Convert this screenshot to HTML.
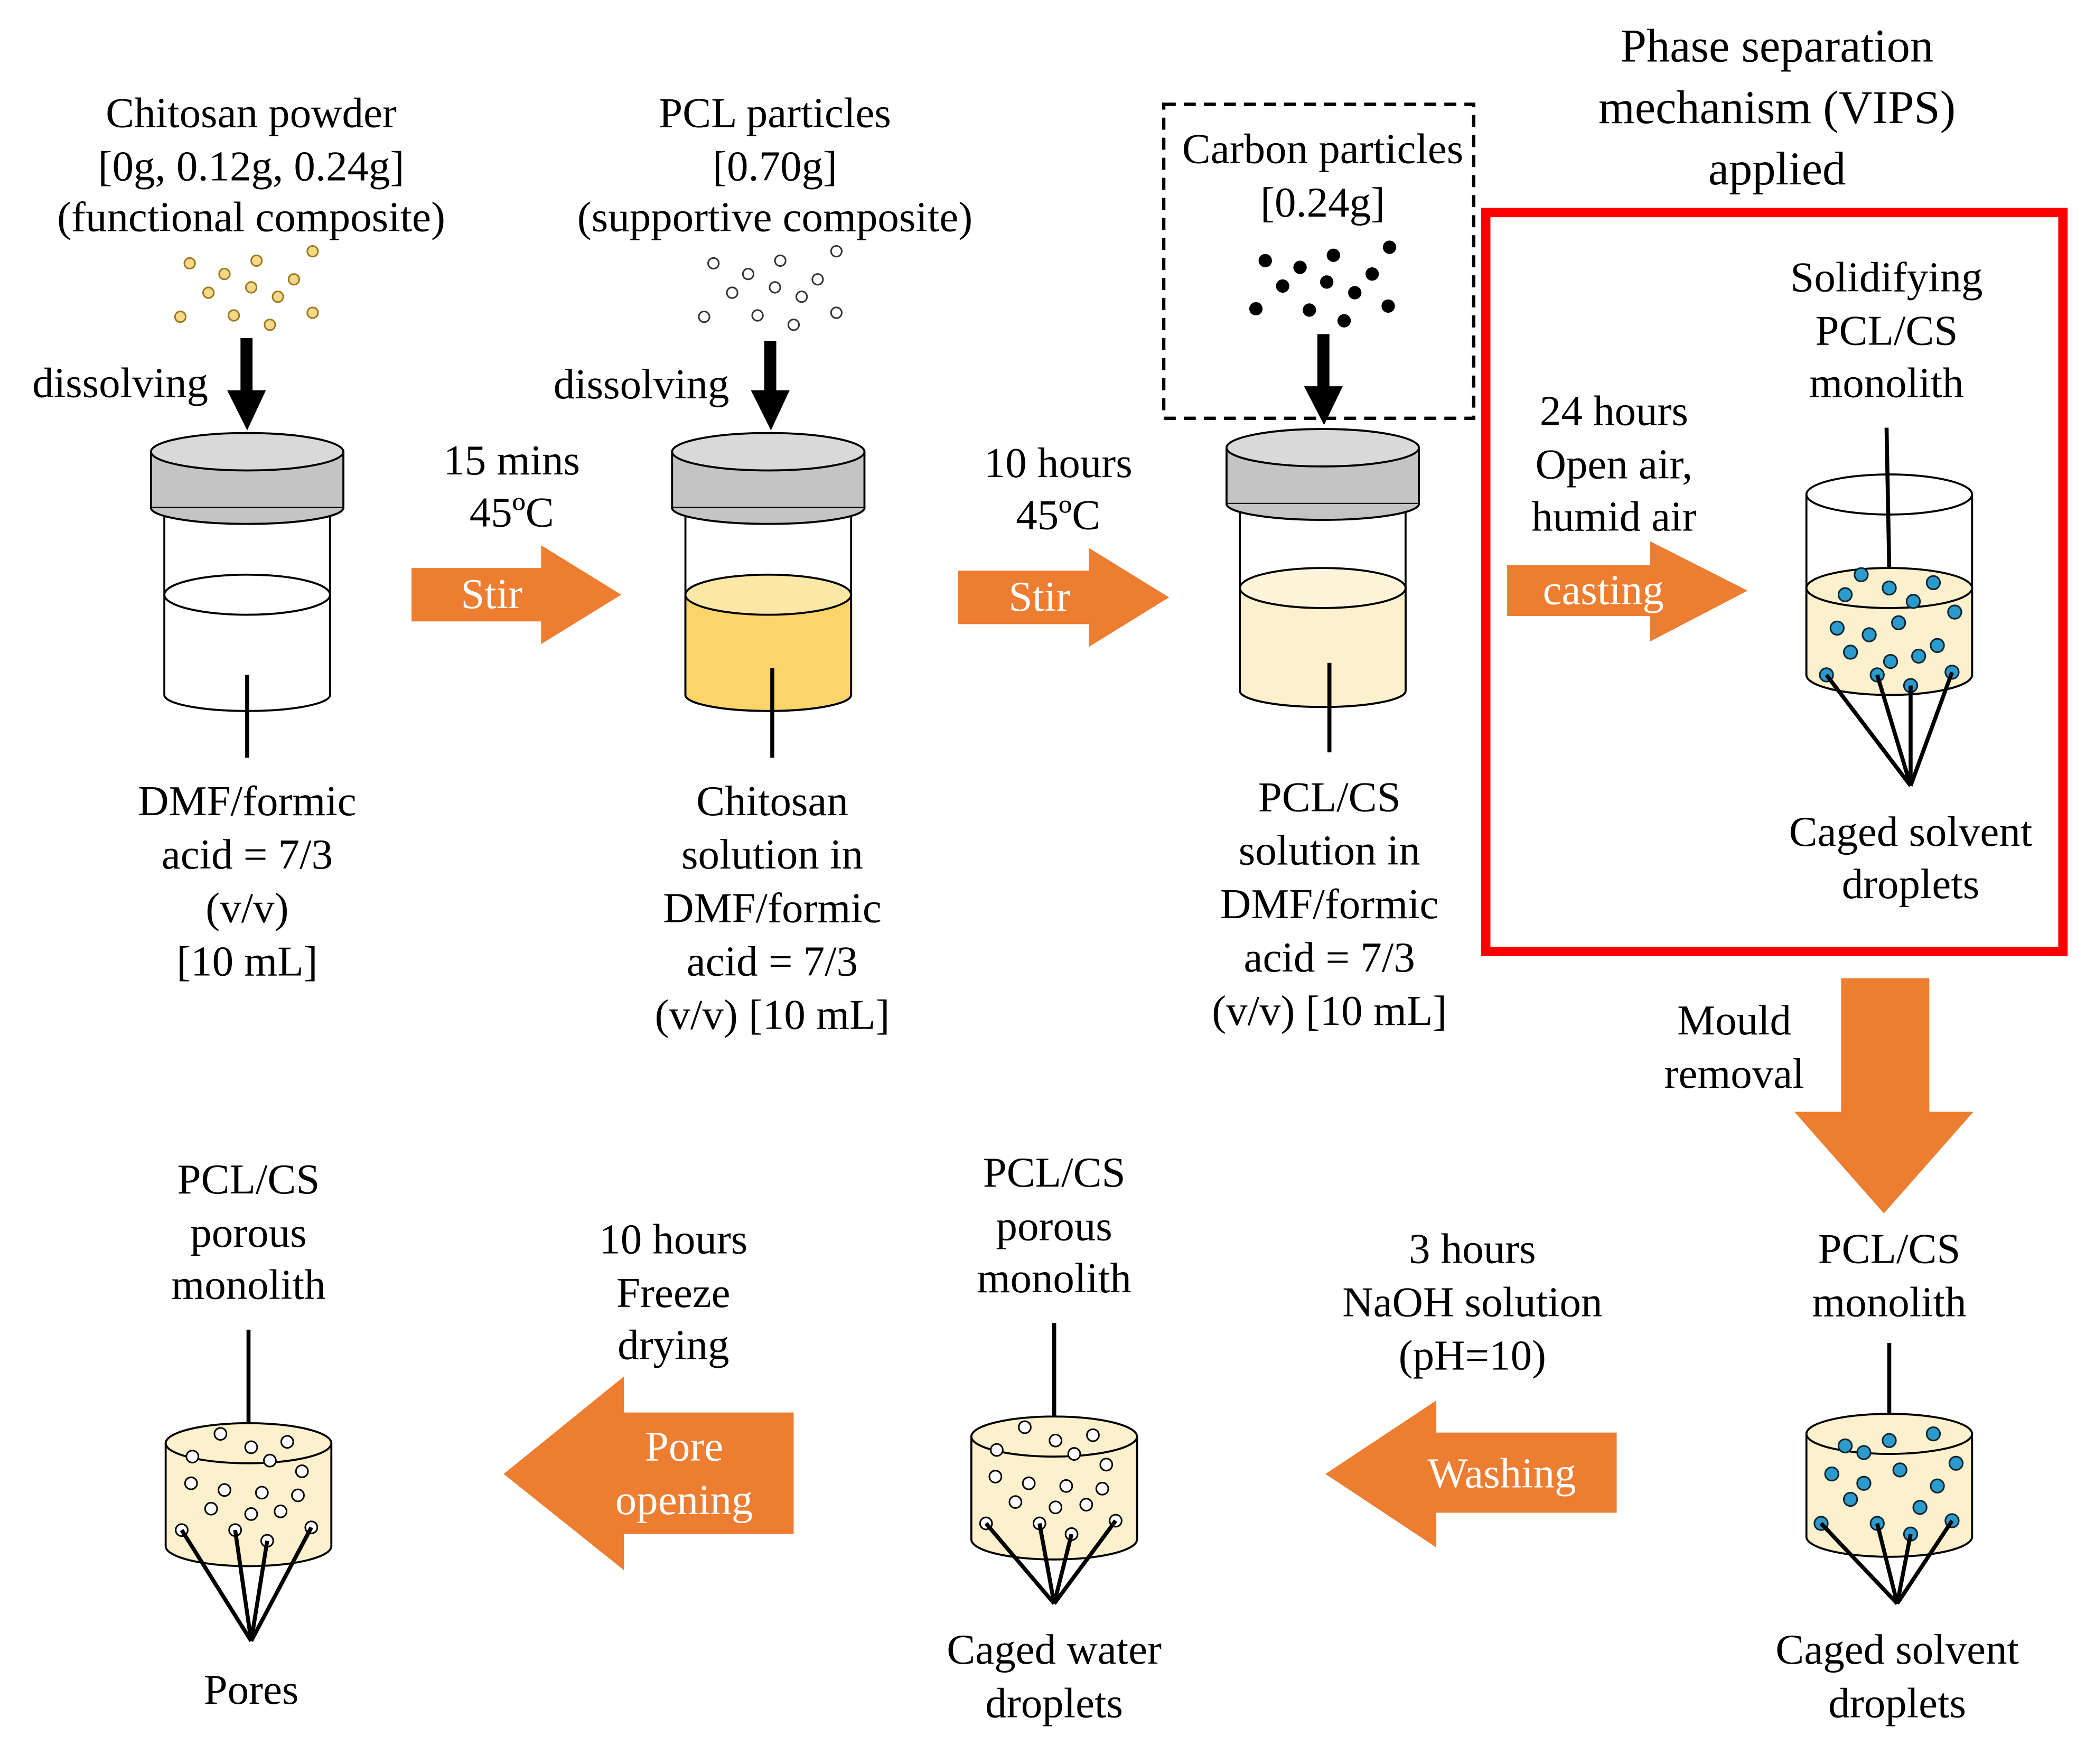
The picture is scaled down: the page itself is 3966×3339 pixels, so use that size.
<!DOCTYPE html>
<html><head><meta charset="utf-8"><style>html,body{margin:0;padding:0;background:#fff}svg{display:block}text{font-family:"Liberation Serif",serif;font-size:32px;fill:#000;text-anchor:middle}.w{fill:#fff}</style></head><body>
<svg width="3966" height="3339" viewBox="0 0 1568 1320" xmlns="http://www.w3.org/2000/svg">
<defs>
<g id="jar">
<path d="M-62,385 L-62,520 A62,12 0 0 0 62,520 L62,385" fill="#fff" stroke="#000" stroke-width="1.5"/>
<rect x="-72" y="338" width="144" height="42" fill="#c4c4c4" stroke="#000" stroke-width="1.5"/>
<path d="M-72,380 A72,12 0 0 0 72,380" fill="#c4c4c4" stroke="#000" stroke-width="1.5"/>
<ellipse cx="0" cy="338" rx="72" ry="14" fill="#d9d9d9" stroke="#000" stroke-width="1.5"/>
</g>
<g id="cyl">
<path d="M-62,0 L-62,77 A62,15 0 0 0 62,77 L62,0" fill="#FDF0CC" stroke="#000" stroke-width="1.5"/>
<ellipse cx="0" cy="0" rx="62" ry="15" fill="#FDF0CC" stroke="#000" stroke-width="1.5"/>
</g>
</defs>
<text x="188" y="95">Chitosan powder</text>
<text x="188" y="135">[0g, 0.12g, 0.24g]</text>
<text x="188" y="173">(functional composite)</text>
<text x="580" y="95">PCL particles</text>
<text x="580" y="135">[0.70g]</text>
<text x="580" y="173">(supportive composite)</text>
<text x="990" y="122">Carbon particles</text>
<text x="990" y="162">[0.24g]</text>
<text x="1330" y="46" style="font-size:35px">Phase separation</text>
<text x="1330" y="92" style="font-size:35px">mechanism (VIPS)</text>
<text x="1330" y="138" style="font-size:35px">applied</text>
<rect x="871" y="78" width="232" height="235" fill="none" stroke="#000" stroke-width="2.5" stroke-dasharray="9,6"/>
<g fill="#F7D889" stroke="#9a7a20" stroke-width="1.2">
<circle cx="142" cy="197" r="4"/><circle cx="168" cy="205" r="4"/><circle cx="192" cy="195" r="4"/><circle cx="234" cy="188" r="4"/><circle cx="156" cy="219" r="4"/><circle cx="188" cy="215" r="4"/><circle cx="220" cy="209" r="4"/><circle cx="208" cy="222" r="4"/><circle cx="135" cy="237" r="4"/><circle cx="175" cy="236" r="4"/><circle cx="202" cy="243" r="4"/><circle cx="234" cy="234" r="4"/>
</g>
<g fill="#fff" stroke="#333" stroke-width="1.2">
<circle cx="534" cy="197" r="4"/><circle cx="560" cy="205" r="4"/><circle cx="584" cy="195" r="4"/><circle cx="626" cy="188" r="4"/><circle cx="548" cy="219" r="4"/><circle cx="580" cy="215" r="4"/><circle cx="612" cy="209" r="4"/><circle cx="600" cy="222" r="4"/><circle cx="527" cy="237" r="4"/><circle cx="567" cy="236" r="4"/><circle cx="594" cy="243" r="4"/><circle cx="626" cy="234" r="4"/>
</g>
<g fill="#000">
<circle cx="947" cy="195" r="5"/><circle cx="973" cy="200" r="5"/><circle cx="998" cy="191" r="5"/><circle cx="1040" cy="185" r="5"/><circle cx="960" cy="214" r="5"/><circle cx="993" cy="211" r="5"/><circle cx="1027" cy="205" r="5"/><circle cx="1014" cy="219" r="5"/><circle cx="940" cy="231" r="5"/><circle cx="980" cy="232" r="5"/><circle cx="1006" cy="240" r="5"/><circle cx="1039" cy="229" r="5"/>
</g>
<g fill="#000">
<rect x="180" y="253" width="9" height="45"/><polygon points="170,292 199,292 185,322"/>
<rect x="572" y="255" width="9" height="43"/><polygon points="562,292 591,292 577,322"/>
<rect x="986" y="250" width="9" height="45"/><polygon points="976,289 1005,289 991,318"/>
</g>
<text x="90" y="297">dissolving</text>
<text x="480" y="298">dissolving</text>
<use href="#jar" x="185" y="0"/>
<ellipse cx="185" cy="445" rx="62" ry="15" fill="#fff" stroke="#000" stroke-width="1.5"/>
<use href="#jar" x="575" y="0"/>
<path d="M513,445 L513,520 A62,12 0 0 0 637,520 L637,445 Z" fill="#FCD56A" stroke="#000" stroke-width="1.5"/>
<ellipse cx="575" cy="445" rx="62" ry="15" fill="#FDE7A6" stroke="#000" stroke-width="1.5"/>
<use href="#jar" x="990" y="-3"/>
<path d="M928,440 L928,517 A62,12 0 0 0 1052,517 L1052,440 Z" fill="#FDF0CC" stroke="#000" stroke-width="1.5"/>
<ellipse cx="990" cy="440" rx="62" ry="15" fill="#FEF4DA" stroke="#000" stroke-width="1.5"/>
<g stroke="#000" stroke-width="3">
<line x1="185" y1="505" x2="185" y2="567"/><line x1="578" y1="500" x2="578" y2="567"/><line x1="995" y1="496" x2="995" y2="563"/>
</g>
<text x="185" y="610">DMF/formic</text><text x="185" y="650">acid = 7/3</text><text x="185" y="690">(v/v)</text><text x="185" y="730">[10 mL]</text>
<text x="578" y="610">Chitosan</text><text x="578" y="650">solution in</text><text x="578" y="690">DMF/formic</text><text x="578" y="730">acid = 7/3</text><text x="578" y="770">(v/v) [10 mL]</text>
<text x="995" y="607">PCL/CS</text><text x="995" y="647">solution in</text><text x="995" y="687">DMF/formic</text><text x="995" y="727">acid = 7/3</text><text x="995" y="767">(v/v) [10 mL]</text>
<g fill="#ED7D31">
<polygon points="308,425 405,425 405,408 465,445 405,482 405,465 308,465"/>
<polygon points="717,427 815,427 815,410 875,447 815,484 815,467 717,467"/>
<polygon points="1128,423 1235,423 1235,405 1308,442 1235,480 1235,461 1128,461"/>
<polygon points="1378,732 1444,732 1444,832 1477,832 1410,908 1343,832 1378,832"/>
<polygon points="1210,1072 1075,1072 1075,1048 992,1103 1075,1158 1075,1132 1210,1132"/>
<polygon points="594,1057 467,1057 467,1030 377,1103 467,1175 467,1148 594,1148"/>
</g>
<text class="w" x="368" y="455">Stir</text>
<text class="w" x="778" y="457">Stir</text>
<text class="w" x="1200" y="452">casting</text>
<text class="w" x="1124" y="1113">Washing</text>
<text class="w" x="512" y="1093">Pore</text>
<text class="w" x="512" y="1133">opening</text>
<text x="383" y="355">15 mins</text><text x="383" y="394">45ºC</text>
<text x="792" y="357">10 hours</text><text x="792" y="396">45ºC</text>
<rect x="1112" y="159" width="432" height="553" fill="none" stroke="#ff0000" stroke-width="7"/>
<text x="1208" y="318">24 hours</text><text x="1208" y="358">Open air,</text><text x="1208" y="397">humid air</text>
<text x="1412" y="218">Solidifying</text><text x="1412" y="258">PCL/CS</text><text x="1412" y="297">monolith</text>
<path d="M1352,370 L1352,505 A62,15 0 0 0 1476,505 L1476,370" fill="#fff" stroke="#000" stroke-width="1.5"/>
<path d="M1352,440 L1352,505 A62,15 0 0 0 1476,505 L1476,440 Z" fill="#FDF0CC" stroke="#000" stroke-width="1.5"/>
<ellipse cx="1414" cy="370" rx="62" ry="15" fill="none" stroke="#000" stroke-width="1.5"/>
<ellipse cx="1414" cy="440" rx="62" ry="15" fill="#FDF0CC" stroke="#000" stroke-width="1.5"/>
<line x1="1412" y1="320" x2="1414" y2="425" stroke="#000" stroke-width="3"/>
<g fill="#2A9BCB" stroke="#123" stroke-width="1.2">
<circle cx="1393" cy="430" r="5"/><circle cx="1414" cy="440" r="5"/><circle cx="1447" cy="436" r="5"/><circle cx="1381" cy="445" r="5"/><circle cx="1432" cy="450" r="5"/><circle cx="1463" cy="458" r="5"/><circle cx="1375" cy="470" r="5"/><circle cx="1421" cy="466" r="5"/><circle cx="1399" cy="475" r="5"/><circle cx="1450" cy="483" r="5"/><circle cx="1385" cy="488" r="5"/><circle cx="1415" cy="495" r="5"/><circle cx="1436" cy="491" r="5"/><circle cx="1367" cy="505" r="5"/><circle cx="1405" cy="505" r="5"/><circle cx="1430" cy="513" r="5"/><circle cx="1461" cy="503" r="5"/>
</g>
<g stroke="#000" stroke-width="3"><line x1="1367" y1="505" x2="1430" y2="588"/><line x1="1405" y1="505" x2="1430" y2="588"/><line x1="1430" y1="513" x2="1430" y2="588"/><line x1="1461" y1="503" x2="1430" y2="588"/></g>
<text x="1430" y="633">Caged solvent</text><text x="1430" y="672">droplets</text>
<text x="1298" y="774">Mould</text><text x="1298" y="814">removal</text>
<text x="1414" y="945">PCL/CS</text><text x="1414" y="985">monolith</text>
<line x1="1414" y1="1005" x2="1414" y2="1062" stroke="#000" stroke-width="3"/>
<use href="#cyl" x="1414" y="1073"/>
<g fill="#2A9BCB" stroke="#123" stroke-width="1.2">
<circle cx="1381" cy="1082" r="5"/><circle cx="1414" cy="1078" r="5"/><circle cx="1447" cy="1073" r="5"/><circle cx="1395" cy="1087" r="5"/><circle cx="1464" cy="1095" r="5"/><circle cx="1371" cy="1103" r="5"/><circle cx="1422" cy="1100" r="5"/><circle cx="1395" cy="1110" r="5"/><circle cx="1450" cy="1112" r="5"/><circle cx="1385" cy="1122" r="5"/><circle cx="1437" cy="1128" r="5"/><circle cx="1363" cy="1140" r="5"/><circle cx="1405" cy="1140" r="5"/><circle cx="1430" cy="1148" r="5"/><circle cx="1461" cy="1138" r="5"/>
</g>
<g stroke="#000" stroke-width="3"><line x1="1363" y1="1140" x2="1420" y2="1200"/><line x1="1405" y1="1140" x2="1420" y2="1200"/><line x1="1430" y1="1148" x2="1420" y2="1200"/><line x1="1461" y1="1138" x2="1420" y2="1200"/></g>
<text x="1420" y="1245">Caged solvent</text><text x="1420" y="1285">droplets</text>
<text x="1102" y="945">3 hours</text><text x="1102" y="985">NaOH solution</text><text x="1102" y="1025">(pH=10)</text>
<text x="789" y="888">PCL/CS</text><text x="789" y="928">porous</text><text x="789" y="967">monolith</text>
<line x1="789" y1="990" x2="789" y2="1062" stroke="#000" stroke-width="3"/>
<use href="#cyl" x="789" y="1075"/>
<g fill="#fff" stroke="#000" stroke-width="1.2">
<circle cx="767" cy="1068" r="4.5"/><circle cx="790" cy="1078" r="4.5"/><circle cx="818" cy="1074" r="4.5"/><circle cx="746" cy="1085" r="4.5"/><circle cx="804" cy="1088" r="4.5"/><circle cx="828" cy="1096" r="4.5"/><circle cx="745" cy="1105" r="4.5"/><circle cx="770" cy="1110" r="4.5"/><circle cx="798" cy="1112" r="4.5"/><circle cx="825" cy="1114" r="4.5"/><circle cx="760" cy="1124" r="4.5"/><circle cx="790" cy="1128" r="4.5"/><circle cx="813" cy="1126" r="4.5"/><circle cx="738" cy="1140" r="4.5"/><circle cx="778" cy="1140" r="4.5"/><circle cx="802" cy="1148" r="4.5"/><circle cx="835" cy="1138" r="4.5"/>
</g>
<g stroke="#000" stroke-width="3"><line x1="738" y1="1140" x2="789" y2="1200"/><line x1="778" y1="1140" x2="789" y2="1200"/><line x1="802" y1="1148" x2="789" y2="1200"/><line x1="835" y1="1138" x2="789" y2="1200"/></g>
<text x="789" y="1245">Caged water</text><text x="789" y="1285">droplets</text>
<text x="504" y="938">10 hours</text><text x="504" y="978">Freeze</text><text x="504" y="1017">drying</text>
<text x="186" y="893">PCL/CS</text><text x="186" y="933">porous</text><text x="186" y="972">monolith</text>
<line x1="186" y1="995" x2="186" y2="1068" stroke="#000" stroke-width="3"/>
<use href="#cyl" x="186" y="1080"/>
<g fill="#fff" stroke="#000" stroke-width="1.2">
<circle cx="165" cy="1073" r="4.5"/><circle cx="188" cy="1083" r="4.5"/><circle cx="215" cy="1079" r="4.5"/><circle cx="144" cy="1090" r="4.5"/><circle cx="202" cy="1093" r="4.5"/><circle cx="226" cy="1101" r="4.5"/><circle cx="143" cy="1110" r="4.5"/><circle cx="168" cy="1115" r="4.5"/><circle cx="196" cy="1117" r="4.5"/><circle cx="223" cy="1119" r="4.5"/><circle cx="158" cy="1129" r="4.5"/><circle cx="188" cy="1133" r="4.5"/><circle cx="210" cy="1131" r="4.5"/><circle cx="136" cy="1145" r="4.5"/><circle cx="176" cy="1145" r="4.5"/><circle cx="200" cy="1153" r="4.5"/><circle cx="233" cy="1143" r="4.5"/>
</g>
<g stroke="#000" stroke-width="3"><line x1="136" y1="1145" x2="188" y2="1228"/><line x1="176" y1="1145" x2="188" y2="1228"/><line x1="200" y1="1153" x2="188" y2="1228"/><line x1="233" y1="1143" x2="188" y2="1228"/></g>
<text x="188" y="1275">Pores</text>
</svg>
</body></html>
